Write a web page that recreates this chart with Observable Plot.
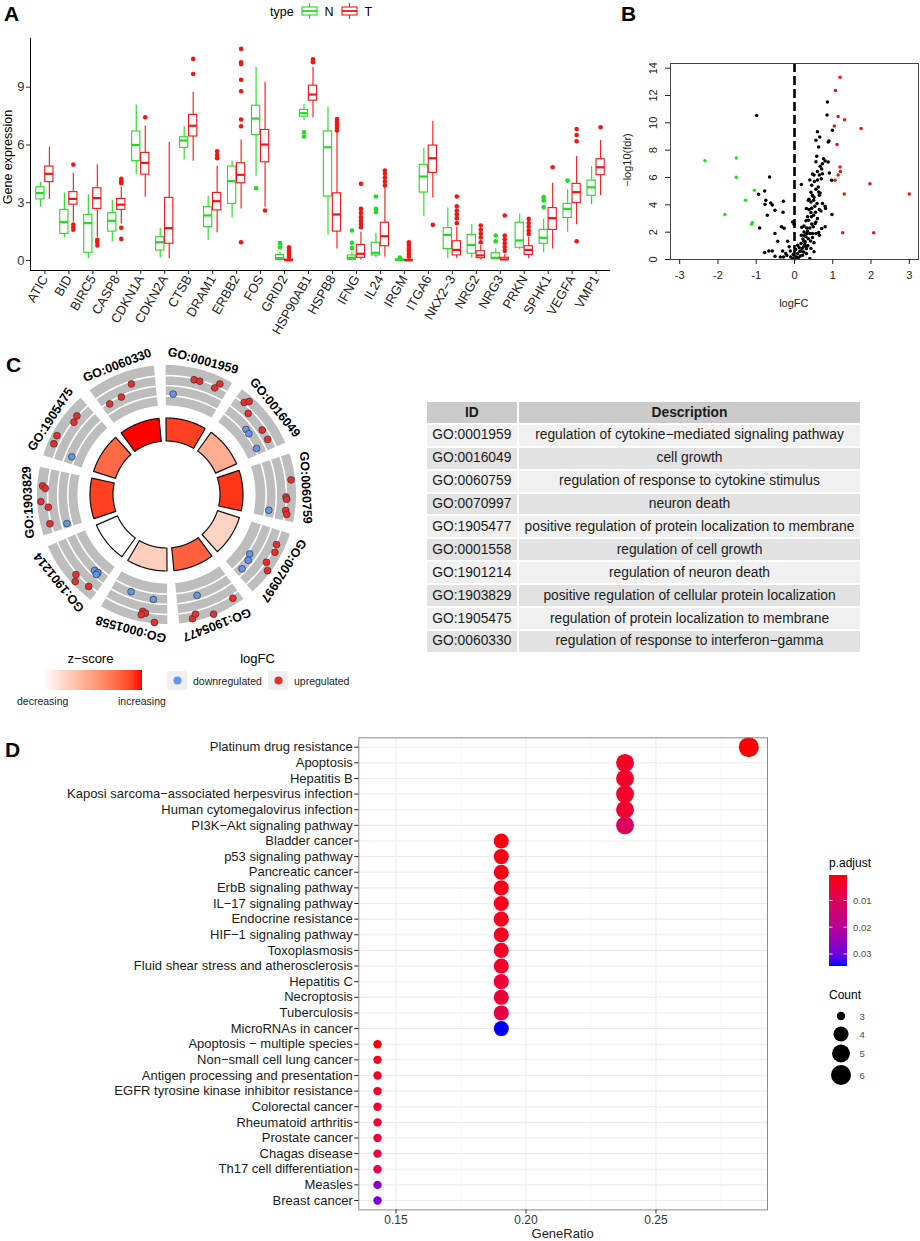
<!DOCTYPE html>
<html>
<head>
<meta charset="utf-8">
<script src="https://cdn.jsdelivr.net/npm/d3@7"></script>
<script src="https://cdn.jsdelivr.net/npm/@observablehq/plot@0.6"></script>
<style>
  body { margin: 0; background: #fff; }
  #fig { position: relative; width: 920px; height: 1241px; overflow: hidden; background: #fff;
         font-family: "Liberation Sans", Arial, Helvetica, sans-serif; }
  .panel { position: absolute; }
  .panel svg { overflow: visible; }
  #overlay { position: absolute; left: 0; top: 0; pointer-events: none; }
  table.go { position: absolute; left: 424.7px; top: 400px; width: 437.3px; border-collapse: collapse;
             font-family: "Liberation Sans", Arial, Helvetica, sans-serif; font-size: 13.8px; color: #1a1a1a; }
  table.go td { border: 2px solid #fff; padding: 0; text-align: center; white-space: nowrap; line-height: 1; }
  table.go tr { height: 22.9px; }
  table.go tr.head td { background: #cbcbcb; font-weight: bold; }
  table.go tr.odd td { background: #f0f0f0; }
  table.go tr.even td { background: #e2e2e2; }
</style>
</head>
<body>
<div id="fig"></div>
<script>
// ---------------- DATA ----------------
// Panel A: boxplot summaries [lower whisker, Q1, median, Q3, upper whisker]
const genes = ["ATIC","BID","BIRC5","CASP8","CDKN1A","CDKN2A","CTSB","DRAM1","ERBB2","FOS","GRID2","HSP90AB1",
               "HSPB8","IFNG","IL24","IRGM","ITGA6","NKX2\u22123","NRG2","NRG3","PRKN","SPHK1","VEGFA","VMP1"];
const nStats = [
  [2.77,3.17,3.5,3.8,4.07],[1.18,1.38,2.0,2.63,3.5],[0.09,0.4,1.94,2.37,3.4],[0.99,1.5,2.06,2.46,3.11],
  [4.45,5.16,6.0,6.7,8.08],[0.14,0.52,0.95,1.21,1.68],[5.22,5.85,6.23,6.4,6.96],[1.04,1.73,2.34,2.77,3.32],
  [2.21,2.94,4.12,4.88,5.16],[4.38,6.52,7.37,8.04,10.03],[0,0.03,0.12,0.29,0.43],[7.27,7.47,7.65,7.82,8.1],
  [1.33,3.32,5.88,6.7,7.96],[0,0.03,0.14,0.26,0.43],[0.14,0.26,0.4,0.92,1.42],[0,0.01,0.03,0.06,0.1],
  [2.28,3.53,4.36,4.97,5.83],[0.09,0.6,1.33,1.68,2.73],[0.12,0.35,0.81,1.33,1.85],[0.03,0.09,0.14,0.38,0.6],
  [0.55,0.66,1.04,1.96,2.42],[0.4,0.87,1.18,1.59,2.16],[1.47,2.21,2.68,2.94,3.67],[2.89,3.36,3.8,4.15,4.88]
];
const tStats = [
  [3.17,4.07,4.5,4.88,5.88],[2.0,2.9,3.2,3.55,4.53],[1.21,2.68,3.24,3.75,4.97],[1.9,2.63,2.9,3.2,3.8],
  [3.29,4.46,5.07,5.59,6.99],[0.09,0.87,1.68,3.25,6.14],[5.16,6.44,7.0,7.56,8.74],[1.44,2.6,3.08,3.51,4.9],
  [2.68,4.01,4.45,5.05,6.26],[2.77,5.1,6.02,6.78,9.26],[0,0,0.01,0.05,0.12],[7.4,8.3,8.62,9.08,10.03],
  [0.6,1.5,2.39,3.49,6.66],[0.03,0.14,0.35,0.81,1.47],[0.17,0.74,1.26,1.96,3.8],[0,0,0.01,0.03,0.08],
  [3.25,4.55,5.31,5.97,7.23],[0.09,0.26,0.55,1.0,1.73],[0.03,0.12,0.26,0.48,0.78],[0,0.03,0.05,0.14,0.3],
  [0.09,0.29,0.55,0.74,1.21],[0.6,1.59,2.2,2.72,4.01],[1.85,2.98,3.55,3.98,5.4],[3.37,4.43,4.84,5.26,6.23]
];
const nOutliers = [[],[],[],[],[],[],[],[],[],[3.75],[0.9,0.69],[6.66,6.44],
  [],[1.56,0.92,0.64],[3.32,2.68,2.51],[0.15],[],[],[],[1.3,1.0],[],[3.29,3.11,2.77],[4.15],[]];
const tOutliers = [[],[4.98,1.87,1.73,1.6],[1.07,0.95,0.78],[4.24,4.12,4.01,1.7,1.12],[7.44],[],[10.47,9.69],
  [5.67,5.48,5.31],[10.99,10.29,10.2,9.39,8.79,7.32,6.97,0.95],[2.6],[0.2,0.3,0.4,0.5,0.6,0.69],[10.45,10.35,10.3],
  [7.35,7.2,7.05,6.9,6.75],[3.98,2.68,2.47,2.25,2.07,1.9,1.73],[4.67,4.5,4.3,4.1,3.9],[0.95,0.8,0.65,0.5,0.35,0.2],
  [1.85],[3.32,2.82,2.6,2.4,2.2,1.94],[1.82,1.6,1.4,1.2,0.95],[2.34,1.3,1.1,0.9,0.7,0.5],
  [2.16,1.95,1.75,1.55,1.38],[4.84],[6.83,6.52,6.19,1.0],[6.92]];
const exprTicks = [0,3,6,9];
const typeLevels = ["N","T"];

// Panel B: volcano
const volcLogFC = [
  1.19,1.07,1.14,1.31,1.04,1.74,1.11,1.19,1.2,1.14,1.06,1.97,1.3,3.0,1.26,2.07,
  -2.34,-1.52,-1.52,-1.05,-1.28,-1.82,-1.1,-1.12,
  -0.99,-0.65,-0.78,-0.94,-0.75,-0.77,-0.62,-0.58,-0.51,-0.71,-0.29,-0.3,-0.34,-0.27,-0.91,-0.51,-0.44,-0.78,
  -0.67,-0.58,-0.51,-0.31,-0.18,-0.05,-0.01,-0.11,-0.23,-0.37,-0.29,-0.2,-0.1,-0.03,-0.14,
  0.86,0.85,0.99,0.6,0.66,0.56,0.63,0.9,0.88,0.58,0.56,0.76,0.73,0.8,0.88,0.67,0.71,0.6,0.47,0.51,0.65,0.73,
  0.91,0.97,0.18,0.4,0.45,0.6,0.56,0.43,0.47,0.65,0.67,0.38,0.43,0.5,0.53,0.8,0.81,0.65,0.69,0.98,0.31,0.38,
  0.43,0.34,0.44,0.37,0.56,0.54,0.3,0.19,0.25,0.4,0.49,0.8,0.71,0.63,0.65,0.56,0.34,0.4,0.25,0.18,0.3,0.47,
  0.51,0.36,0.24,0.17,0.08,0.12,0.25,0.31,0.03,0.17,0.24,0.08,-0.01,0.05,0.1,0.4,-0.05,0.21,0.31,0.43,0.3,
  0.51,0.47,0.32,0.6,0.5,0.59,0.32,0.28,0.73,0.36,0.47,0.63,0.51,0.14,0.2,0.27,0.22,0.35,0.42,0.15,0.02,
  0.26,0.45,0.55,0.62,0.7,0.52,0.45
];
const volcLogFdr = [
  13.34,12.37,10.47,10.23,9.76,9.59,8.42,6.77,6.43,6.18,5.8,5.55,4.8,4.8,1.95,1.95,
  7.23,7.43,6.01,5.06,4.33,3.29,2.7,2.58,
  10.54,6.04,5.02,4.77,4.33,4.04,4.14,3.99,3.6,3.24,4.26,3.46,2.39,2.29,2.31,1.9,1.34,0.51,
  0.63,0.63,0.24,0.63,1.34,2.75,2.58,0.63,0.44,0.19,0.19,0.29,0.19,0.39,0.93,
  11.52,10.57,9.45,9.35,8.96,8.72,8.23,8.67,8.6,7.55,7.16,7.38,7.01,7.2,7.13,6.82,6.62,6.43,6.26,6.18,6.18,6.28,
  6.33,5.8,5.48,5.82,5.43,5.82,5.14,4.92,4.7,4.7,4.87,4.41,4.21,4.33,3.9,3.9,3.73,3.65,3.55,3.29,3.73,3.65,
  3.43,3.12,3.12,2.87,2.75,2.63,2.83,2.36,2.46,2.31,2.39,2.39,2.26,1.97,1.78,1.9,2.09,1.9,2.02,1.78,1.66,1.61,
  1.22,1.51,1.36,1.17,1.05,0.88,0.97,0.78,0.73,0.63,0.54,0.44,0.32,0.19,0.12,0.07,0.07,0.32,0.44,0.8,0.93,
  0.56,1.9,2.31,3.0,3.24,4.09,1.9,1.29,4.09,4.33,4.67,4.94,4.53,0.6,0.8,1.1,1.5,1.0,1.35,0.25,0.05,
  1.75,2.6,3.45,5.3,5.9,5.7,3.75
];
const fcCut = 1;
const volcTicksX = [-3,-2,-1,0,1,2,3];
const volcTicksY = [0,2,4,6,8,10,12,14];

// Panel C: GO circle + table
const goIds = ["GO:0001959","GO:0016049","GO:0060759","GO:0070997","GO:1905477",
               "GO:0001558","GO:1901214","GO:1903829","GO:1905475","GO:0060330"];
const goDesc = ["regulation of cytokine\u2212mediated signaling pathway","cell growth",
  "regulation of response to cytokine stimulus","neuron death",
  "positive regulation of protein localization to membrane","regulation of cell growth",
  "regulation of neuron death","positive regulation of cellular protein localization",
  "regulation of protein localization to membrane","regulation of response to interferon\u2212gamma"];
const goZ = [1.55,0.75,1.6,0.4,1.35,0.45,0,1.55,1.3,1.73];
const geneTerm = [0,0,0,0,0, 1,1,1,1,1,1,1,1, 2,2,2,2,2,2, 3,3,3,3,3,3,3, 4,4,4,4,4,
                  5,5,5,5,5,5, 6,6,6,6,6,6, 7,7,7,7,7,7, 8,8,8,8,8, 9,9,9];
const genePos = [0.45,0.53,0.75,0.79,0.18, 0.19,0.23,0.33,0.48,0.56,0.63,0.78,0.82,
                 0.39,0.61,0.64,0.79,0.84,0.82, 0.26,0.36,0.53,0.61,0.57,0.66,0.82,
                 0.18,0.49,0.76,0.71,0.62, 0.65,0.29,0.41,0.37,0.42,0.24,
                 0.3,0.24,0.24,0.44,0.38,0.21, 0.7,0.67,0.5,0.42,0.2,0.14,
                 0.73,0.64,0.37,0.26,0.19, 0.59,0.39,0.19];
const geneLogFC = [1.38,1.38,1.24,1.95,-0.76, 1.63,2.13,0.98,-0.56,-0.61,0.99,0.96,-0.78,
                   2.19,1.46,1.55,1.54,1.74,-0.53, 1.61,1.84,1.58,2.3,-0.7,-0.38,-0.24,
                   1.88,2.56,2.35,1.88,-0.29, -0.5,-0.23,1.44,1.59,1.88,2.58,
                   -0.33,-0.39,-0.1,1.69,2.34,1.63, 2.16,1.81,2.36,1.49,1.65,-0.39,
                   1.56,1.35,2.2,2.1,-0.58, 1.16,0.1,0.05];

// Panel D: KEGG dot plot
const pathways = ["Platinum drug resistance","Apoptosis","Hepatitis B","Kaposi sarcoma\u2212associated herpesvirus infection",
  "Human cytomegalovirus infection","PI3K\u2212Akt signaling pathway","Bladder cancer","p53 signaling pathway",
  "Pancreatic cancer","ErbB signaling pathway","IL\u221217 signaling pathway","Endocrine resistance",
  "HIF\u22121 signaling pathway","Toxoplasmosis","Fluid shear stress and atherosclerosis","Hepatitis C","Necroptosis",
  "Tuberculosis","MicroRNAs in cancer","Apoptosis \u2212 multiple species","Non\u2212small cell lung cancer",
  "Antigen processing and presentation","EGFR tyrosine kinase inhibitor resistance","Colorectal cancer",
  "Rheumatoid arthritis","Prostate cancer","Chagas disease","Th17 cell differentiation","Measles","Breast cancer"];
const geneRatio = [0.2857,0.2381,0.2381,0.2381,0.2381,0.2381,0.1905,0.1905,0.1905,0.1905,0.1905,0.1905,0.1905,
  0.1905,0.1905,0.1905,0.1905,0.1905,0.1905,0.1429,0.1429,0.1429,0.1429,0.1429,0.1429,0.1429,0.1429,0.1429,0.1429,0.1429];
const counts = [6,5,5,5,5,5,4,4,4,4,4,4,4,4,4,4,4,4,4,3,3,3,3,3,3,3,3,3,3,3];
const pAdjust = [0.0005,0.0035,0.004,0.0042,0.0045,0.011,0.0015,0.0018,0.002,0.0022,0.0025,0.0028,0.003,0.0033,
  0.004,0.0052,0.0058,0.0072,0.0345,0.0006,0.0025,0.003,0.0035,0.0045,0.005,0.0058,0.0062,0.007,0.027,0.029];
const ratioTicks = [0.15,0.20,0.25];
const ratioMinor = [0.175,0.225,0.275];
const pTicks = [0.01,0.02,0.03];
const countTicks = [3,4,5,6];

// ---------------- STYLE CONSTANTS ----------------
const FONT = '"Liberation Sans", Arial, Helvetica, sans-serif';
const GREEN = "#1fdc1f", RED = "#f41414";
const fig = document.getElementById("fig");
function place(node, left, top) {
  const d = document.createElement("div");
  d.className = "panel"; d.style.left = left + "px"; d.style.top = top + "px";
  d.appendChild(node); fig.appendChild(d); return d;
}

// ---------------- PANEL A ----------------
const boxRows = [], outRows = [];
genes.forEach((g, i) => {
  [[typeLevels[0], nStats[i], nOutliers[i], -1], [typeLevels[1], tStats[i], tOutliers[i], 1]].forEach(([type, s, outs, side]) => {
    boxRows.push({i: i + 1, type, side, lo: s[0], q1: s[1], med: s[2], q3: s[3], hi: s[4]});
    outs.forEach(v => outRows.push({i: i + 1, type, side, v}));
  });
});
const DODGE = 0.1875, HALF = 0.172;
const cx = d => d.i + d.side * DODGE;
const plotA = Plot.plot({
  width: 630, height: 330, marginLeft: 30, marginRight: 20, marginTop: 38, marginBottom: 60,
  style: {fontFamily: FONT, fontSize: "13px", color: "#333", background: "transparent", overflow: "visible"},
  x: {domain: [0.4, genes.length + 0.6], axis: null},
  y: {domain: [-0.52, 11.53], axis: null},
  color: {domain: typeLevels, range: [GREEN, RED]},
  marks: [
    Plot.ruleX(boxRows, {x: cx, y1: "lo", y2: "q1", stroke: "type", strokeWidth: 1.1}),
    Plot.ruleX(boxRows, {x: cx, y1: "q3", y2: "hi", stroke: "type", strokeWidth: 1.1}),
    Plot.rect(boxRows, {x1: d => cx(d) - HALF, x2: d => cx(d) + HALF, y1: "q1", y2: "q3", fill: "white", stroke: "type", strokeWidth: 1.1}),
    Plot.ruleY(boxRows, {y: "med", x1: d => cx(d) - HALF, x2: d => cx(d) + HALF, stroke: "type", strokeWidth: 2.2}),
    Plot.dot(outRows, {x: cx, y: "v", r: 2.3, fill: "type"}),
    Plot.ruleX([0.4], {stroke: "#000", strokeWidth: 1}),
    Plot.ruleY([-0.52], {stroke: "#000", strokeWidth: 1}),
    Plot.axisY({ticks: exprTicks, tickSize: 4, tickPadding: 2, fontSize: 13, label: null, color: "#333"}),
    Plot.axisX({ticks: genes.map((g, i) => i + 1), tickFormat: i => genes[i - 1], tickRotate: -60,
                tickSize: 4, tickPadding: 2, fontSize: 13, label: null, color: "#222"})
  ]
});
place(plotA, 0, 0);

// ---------------- PANEL B ----------------
const volcRows = volcLogFC.map((x, k) => ({x, y: volcLogFdr[k], cls: x > fcCut ? "up" : x < -fcCut ? "down" : "ns"}));
const xDomB = [-3.24, 3.24];
const plotB = Plot.plot({
  width: 300, height: 330, marginLeft: 50, marginRight: 2, marginTop: 63, marginBottom: 71,
  style: {fontFamily: FONT, fontSize: "11px", color: "#222", background: "transparent", overflow: "visible"},
  x: {domain: xDomB, axis: null},
  y: {domain: [0, 14.34], axis: null},
  color: {domain: ["down", "ns", "up"], range: ["#20e020", "#000000", "#ee1111"]},
  marks: [
    Plot.dot(volcRows, {x: "x", y: "y", r: 1.75, fill: "cls"}),
    Plot.ruleX([0], {stroke: "#000", strokeWidth: 2.6, strokeDasharray: "9,4"}),
    Plot.frame({stroke: "#444", strokeWidth: 1}),
    Plot.axisX({ticks: volcTicksX, tickFormat: d => String(d), tickSize: 5, tickPadding: 7, fontSize: 11, label: null, color: "#222"}),
    Plot.axisY({ticks: volcTicksY, tickFormat: () => "", tickSize: 5, label: null, color: "#222"}),
    Plot.text(volcTicksY, {x: xDomB[0], y: d => d, text: d => String(d), rotate: -90, dx: -17, fontSize: 11,
                           textAnchor: "middle", lineAnchor: "middle", fill: "#222"})
  ]
});
place(plotB, 620, 0);

// ---------------- PANEL C: circle ----------------
const SEG = 360 / goIds.length, ROT = -3, GAP = 2.6;
const R_IN0 = 53.5, R_IN1 = 76.5, R_OUT0 = 89, R_OUT1 = 129.5, LABEL_R = 139;
const rad = a => a * Math.PI / 180;
const px = (r, a) => r * Math.sin(rad(a));
const py = (r, a) => -r * Math.cos(rad(a));
const segStart = k => ROT + k * SEG;
const midAngle = k => segStart(k) + SEG / 2;
function arcAngles(k) {
  const a0 = segStart(k) + GAP, a1 = segStart(k) + SEG - GAP, out = [];
  for (let a = a0; a < a1; a += 0.5) out.push(a);
  out.push(a1); return out;
}
const ringRows = (r0, r1) => goIds.flatMap((id, k) => arcAngles(k).map(a =>
  ({id, z: goZ[k], x1: px(r0, a), y1: py(r0, a), x2: px(r1, a), y2: py(r1, a)})));
const innerRows = ringRows(R_IN0, R_IN1);
const blockRows = ringRows(R_OUT0, R_OUT1);
const trackRows = goIds.flatMap((id, k) => [0.25, 0.5, 0.75].flatMap(f => {
  const r = R_OUT0 + (R_OUT1 - R_OUT0) * f;
  return arcAngles(k).map(a => ({key: id + f, x: px(r, a), y: py(r, a)}));
}));
const rLfc = d3.scaleLinear().domain([-2.25, 2.75]).range([R_OUT0, R_OUT1]);
const geneRows = geneTerm.map((k, j) => {
  const a = segStart(k) + genePos[j] * SEG, r = rLfc(geneLogFC[j]);
  return {x: px(r, a), y: py(r, a), up: geneLogFC[j] > 0};
});
const zMax = d3.max(goZ), zMin = d3.min(goZ);
const CW = 340, CH = 335, C0X = 166.5, C0Y = 167.5;
const plotC = Plot.plot({
  width: CW, height: CH, margin: 0,
  style: {fontFamily: FONT, background: "transparent", overflow: "visible"},
  x: {domain: [-C0X, CW - C0X], range: [0, CW], axis: null},
  y: {domain: [-C0Y, CH - C0Y], range: [0, CH], axis: null},
  color: {type: "linear", domain: [zMin, zMax], range: ["white", "red"], interpolate: "lab"},
  marks: [
    Plot.area(blockRows, {x1: "x1", y1: "y1", x2: "x2", y2: "y2", z: "id", fill: "#bdbdbd"}),
    Plot.line(trackRows, {x: "x", y: "y", z: "key", stroke: "white", strokeWidth: 1.6}),
    Plot.area(innerRows, {x1: "x1", y1: "y1", x2: "x2", y2: "y2", z: "id", fill: "z", stroke: "#111", strokeWidth: 1.2}),
    Plot.dot(geneRows.filter(d => d.up), {x: "x", y: "y", r: 3.4, fill: "#ee2b2b", stroke: "#333", strokeWidth: 0.7}),
    Plot.dot(geneRows.filter(d => !d.up), {x: "x", y: "y", r: 3.4, fill: "#6495ed", stroke: "#333", strokeWidth: 0.7}),
    Plot.text(goIds, {x: (d, k) => px(LABEL_R, midAngle(k)), y: (d, k) => py(LABEL_R, midAngle(k)),
                      text: d => d, rotate: (d, k) => midAngle(k), fontSize: 12.5, fontWeight: "bold", fill: "#000"})
  ]
});
place(plotC, 0, 327);

// ---------------- PANEL C: table ----------------
const tbl = document.createElement("table");
tbl.className = "go";
const cg = document.createElement("colgroup");
cg.innerHTML = '<col style="width:92.3px"><col>';
tbl.appendChild(cg);
const headTr = document.createElement("tr"); headTr.className = "head";
["ID", "Description"].forEach(h => { const td = document.createElement("td"); td.textContent = h; headTr.appendChild(td); });
tbl.appendChild(headTr);
goIds.forEach((id, k) => {
  const tr = document.createElement("tr"); tr.className = k % 2 === 0 ? "odd" : "even";
  [id, goDesc[k]].forEach(v => { const td = document.createElement("td"); td.textContent = v; tr.appendChild(td); });
  tbl.appendChild(tr);
});
fig.appendChild(tbl);

// ---------------- PANEL D ----------------
const pDomain = [d3.min(pAdjust), d3.max(pAdjust)];
const rDomain = [0, 3], rRange = [4.2, 10];
const keggRows = pathways.map((name, k) => ({name, k, ratio: geneRatio[k], count: counts[k], p: pAdjust[k]}));
const plotD = Plot.plot({
  width: 920, height: 516, marginLeft: 358.3, marginRight: 153, marginTop: 12.3, marginBottom: 31.6,
  style: {fontFamily: FONT, fontSize: "13px", color: "#222", background: "transparent", overflow: "visible"},
  x: {domain: [0.1357, 0.2929], axis: null},
  y: {domain: [pathways.length - 0.4, -0.6], axis: null},
  color: {type: "linear", domain: pDomain, range: ["red", "blue"], interpolate: "lab"},
  r: {type: "sqrt", domain: rDomain, range: rRange},
  marks: [
    Plot.ruleY(keggRows, {y: "k", stroke: "#ebebeb", strokeWidth: 1.07}),
    Plot.ruleX(ratioMinor, {x: d => d, stroke: "#f2f2f2", strokeWidth: 0.6}),
    Plot.ruleX(ratioTicks, {x: d => d, stroke: "#ebebeb", strokeWidth: 1.07}),
    Plot.dot(keggRows, {x: "ratio", y: "k", r: d => d.count - countTicks[0], fill: "p"}),
    Plot.frame({stroke: "#8a8a8a", strokeWidth: 1}),
    Plot.axisY({ticks: keggRows.map(d => d.k), tickFormat: k => pathways[k], tickSize: 4, tickPadding: 2,
                fontSize: 13, label: null, color: "#1a1a1a"}),
    Plot.axisX({ticks: ratioTicks, tickFormat: d3.format(".2f"), tickSize: 4, tickPadding: 2, fontSize: 12, label: null, color: "#333"})
  ]
});
place(plotD, 0, 725);

// ---------------- OVERLAY TEXT & LEGENDS ----------------
const ov = d3.select(fig).append("svg").attr("id", "overlay").attr("width", 920).attr("height", 1241);
const defs = ov.append("defs");
function txt(x, y, s, o = {}) {
  const t = ov.append("text").attr("x", x).attr("y", y).text(s)
    .attr("font-family", FONT).attr("font-size", o.size || 12).attr("fill", o.fill || "#000");
  if (o.weight) t.attr("font-weight", o.weight);
  if (o.anchor) t.attr("text-anchor", o.anchor);
  if (o.rotate != null) t.attr("transform", `rotate(${o.rotate},${x},${y})`);
  return t;
}
// panel letters
txt(4, 20.5, "A", {size: 21, weight: "bold"});
txt(621, 20.5, "B", {size: 21, weight: "bold"});
txt(6, 371.5, "C", {size: 21, weight: "bold"});
txt(5, 757, "D", {size: 21, weight: "bold"});

// Panel A legend + label
txt(270, 16, "type", {size: 12.5});
[[typeLevels[0], 302, GREEN], [typeLevels[1], 342, RED]].forEach(([lab, x0, col]) => {
  ov.append("line").attr("x1", x0 + 7.5).attr("x2", x0 + 7.5).attr("y1", 3).attr("y2", 19).attr("stroke", col).attr("stroke-width", 1.1);
  ov.append("rect").attr("x", x0).attr("y", 7).attr("width", 15).attr("height", 8).attr("fill", "#fff").attr("stroke", col).attr("stroke-width", 1.1);
  ov.append("line").attr("x1", x0).attr("x2", x0 + 15).attr("y1", 11).attr("y2", 11).attr("stroke", col).attr("stroke-width", 1.8);
  txt(x0 + 22.5, 16, lab, {size: 12.5});
});
txt(12, 157, "Gene expression", {size: 12.5, anchor: "middle", rotate: -90});

// Panel B labels
txt(631, 160, "\u2212log10(fdr)", {size: 11, anchor: "middle", rotate: -90, fill: "#222"});
txt(793.8, 307, "logFC", {size: 11, anchor: "middle", fill: "#222"});

// Panel C legend
txt(90.5, 662.5, "z\u2212score", {size: 13, anchor: "middle"});
const zg = defs.append("linearGradient").attr("id", "zgrad").attr("x1", 0).attr("x2", 1).attr("y1", 0).attr("y2", 0);
const zInt = d3.interpolateLab("white", "red");
d3.range(0, 1.0001, 0.1).forEach(t => zg.append("stop").attr("offset", t).attr("stop-color", zInt(t)));
ov.append("rect").attr("x", 43).attr("y", 670).attr("width", 99).attr("height", 20).attr("fill", "url(#zgrad)");
txt(17, 704.5, "decreasing", {size: 10.5, fill: "#222"});
txt(118, 704.5, "increasing", {size: 10.5, fill: "#222"});
txt(257.5, 662.5, "logFC", {size: 13, anchor: "middle"});
[["downregulated", 167, "#6495ed"], ["upregulated", 268, "#ee2b2b"]].forEach(([lab, x0, col]) => {
  ov.append("rect").attr("x", x0).attr("y", 671).attr("width", 20).attr("height", 19).attr("rx", 2).attr("fill", "#efefef");
  ov.append("circle").attr("cx", x0 + 10.5).attr("cy", 680.5).attr("r", 4).attr("fill", col);
  txt(x0 + 26, 684.5, lab, {size: 10.5, fill: "#222"});
});

// Panel D legend
txt(829, 867, "p.adjust", {size: 12});
const pg = defs.append("linearGradient").attr("id", "pgrad").attr("x1", 0).attr("x2", 0).attr("y1", 0).attr("y2", 1);
const pInt = d3.interpolateLab("red", "blue");
d3.range(0, 1.0001, 0.1).forEach(t => pg.append("stop").attr("offset", t).attr("stop-color", pInt(t)));
const barY0 = 875, barH = 91;
ov.append("rect").attr("x", 829).attr("y", barY0).attr("width", 18).attr("height", barH).attr("fill", "url(#pgrad)");
const pPos = d3.scaleLinear().domain(pDomain).range([barY0, barY0 + barH]);
pTicks.forEach(v => {
  const y = pPos(v);
  ov.append("line").attr("x1", 829).attr("x2", 832.6).attr("y1", y).attr("y2", y).attr("stroke", "#fff").attr("stroke-width", 0.8);
  ov.append("line").attr("x1", 843.4).attr("x2", 847).attr("y1", y).attr("y2", y).attr("stroke", "#fff").attr("stroke-width", 0.8);
  txt(853, y + 3.5, String(v), {size: 9.5, fill: "#4d4d4d"});
});
txt(829, 999, "Count", {size: 12});
const rLeg = d3.scaleSqrt().domain(rDomain).range(rRange);
const countY = [1016, 1034, 1053.5, 1075];
countTicks.forEach((c, k) => {
  ov.append("circle").attr("cx", 841).attr("cy", countY[k]).attr("r", rLeg(c - countTicks[0])).attr("fill", "#000");
  txt(859.5, countY[k] + 3.5, String(c), {size: 9.5, fill: "#4d4d4d"});
});
txt(562.6, 1238, "GeneRatio", {size: 13, anchor: "middle", fill: "#222"});
</script>
</body>
</html>
